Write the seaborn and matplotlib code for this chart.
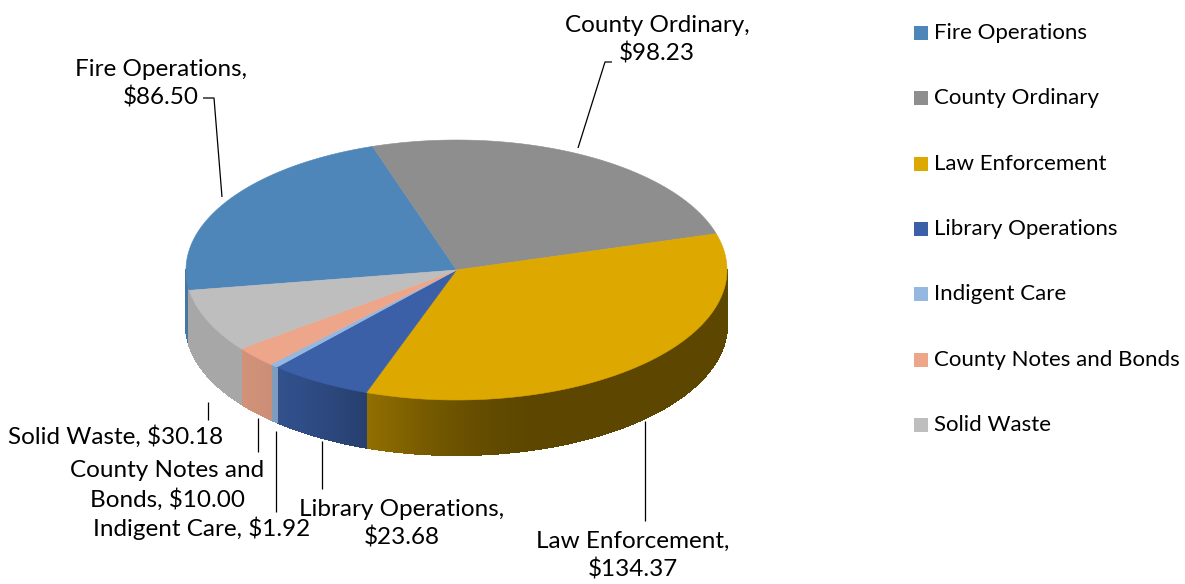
import numpy as np
import matplotlib
matplotlib.use("Agg")
import matplotlib.pyplot as plt
from matplotlib.collections import PolyCollection
from matplotlib.patches import Polygon, Rectangle
from matplotlib.colors import to_rgb
import seaborn as sns

# Per-capita spending by category
categories = ["Fire Operations", "County Ordinary", "Law Enforcement",
              "Library Operations", "Indigent Care", "County Notes and Bonds",
              "Solid Waste"]
values = [86.50, 98.23, 134.37, 23.68, 1.92, 10.00, 30.18]
label_texts = ["Fire Operations,\n$86.50", "County Ordinary,\n$98.23",
               "Law Enforcement,\n$134.37", "Library Operations,\n$23.68",
               "Indigent Care, $1.92", "County Notes and\nBonds, $10.00",
               "Solid Waste, $30.18"]
colors = ["#4F86B9", "#8E8E8E", "#DDA800", "#3B60A8", "#95B8E0", "#EEA68A", "#BEBEBE"]

sns.set_theme(style="white")
plt.rcParams["font.family"] = ["Lato", "DejaVu Sans"]

W, H = 1185, 584
fig = plt.figure(figsize=(W / 100, H / 100), dpi=100)
ax = fig.add_axes([0, 0, 1, 1])
ax.set_xlim(0, W)
ax.set_ylim(H, 0)
ax.axis("off")

# 3D pie geometry (screen units)
cx, cy, rx, ry, depth = 456.5, 270.0, 270.5, 130.0, 55.0
start_angle = 189.0  # first slice begins here and runs clockwise


def rim(theta_deg, dz=0.0):
    t = np.deg2rad(theta_deg)
    return cx + rx * np.cos(t), cy - ry * np.sin(t) + dz


def shade(theta_deg):
    # lighting of the outer wall: bright on the left, dark toward the front-right
    th = theta_deg % 360
    s = np.clip((288.0 - th) / 72.0, 0, 1)
    s = s * s * (3 - 2 * s)
    return 0.42 + 0.46 * s


total = sum(values)
spans = [v / total * 360.0 for v in values]
bounds = []
a = start_angle
for sp in spans:
    bounds.append((a, a - sp))
    a -= sp

# outer wall, drawn as thin strips on the visible (front) half
polys, fcols = [], []
for (a0, a1), col in zip(bounds, colors):
    base = np.array(to_rgb(col))
    steps = np.arange(a1, a0, 0.25)
    steps = np.append(steps, a0)
    for t0, t1 in zip(steps[:-1], steps[1:]):
        tm = (t0 + t1) / 2
        if np.sin(np.deg2rad(tm)) >= 0.0:
            continue
        polys.append([rim(t0), rim(t1), rim(t1, depth), rim(t0, depth)])
        fcols.append(tuple(np.clip(base * shade(tm), 0, 1)))
wall = PolyCollection(polys, facecolors=fcols, edgecolors=fcols, linewidths=0.8,
                      antialiased=False)
ax.add_collection(wall)

# top face
for (a0, a1), col in zip(bounds, colors):
    ts = np.linspace(a1, a0, 200)
    pts = [(cx, cy)] + [rim(t) for t in ts]
    ax.add_patch(Polygon(pts, closed=True, facecolor=col, edgecolor=col, linewidth=0.4))

# data labels with leader lines
fs_label = 17.5
fs_legend = 16
label_pos = [(161, 84), (657, 40), (633, 556), (402, 524),
             (202, 528), (167, 485), (116, 437)]
leaders = [
    [(203, 98), (214, 98), (222, 197)],
    [(612, 62), (605, 62), (578, 148)],
    [(645, 421), (645, 521)],
    [(322, 441), (322, 489)],
    [(276, 431), (276, 512)],
    [(258, 418), (258, 452)],
    [(208, 402), (208, 420)],
]
for txt, (x, y), ld in zip(label_texts, label_pos, leaders):
    ax.text(x, y, txt, ha="center", va="center", fontsize=fs_label, color="#000000",
            linespacing=1.38)
    xs, ys = zip(*ld)
    ax.plot(xs, ys, color="#000000", linewidth=0.9, solid_capstyle="butt")

# legend
ly0, ldy = 33, 65.3
for i, (cat, col) in enumerate(zip(categories, colors)):
    y = ly0 + i * ldy
    ax.add_patch(Rectangle((914, y - 7), 14, 14, facecolor=col, edgecolor="none"))
    ax.text(934, y, cat, ha="left", va="center", fontsize=fs_legend, color="#000000")

fig.savefig("out.png", dpi=100, facecolor="white")
